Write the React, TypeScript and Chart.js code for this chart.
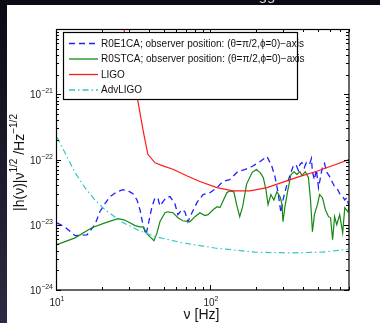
import React, { useEffect, useRef } from "react";
import { Chart, registerables } from "chart.js";
Chart.register(...registerables);

// ---------- data ----------
const ligoFreq = [27.6, 30.5, 33.6, 37, 39.5, 44, 50, 57.5, 70, 86, 111, 141, 182, 235, 298, 384, 495, 629, 800];
const ligoAmp = [1e-20, 2.6e-21, 9.3e-22, 2.6e-22, 1.2e-22, 8.9e-23, 7.9e-23, 7.1e-23, 5.7e-23, 4.6e-23, 3.7e-23, 3.3e-23, 3.3e-23, 3.7e-23, 4.5e-23, 5.5e-23, 6.6e-23, 8.1e-23, 1.0e-22];

const advFreq = [10.15, 11.4, 13.3, 15.4, 17.9, 20.8, 26.8, 34, 43.9, 65.7, 107.7, 197, 320, 534, 787];
const advAmp = [2.2e-22, 1.29e-22, 6.3e-23, 3.7e-23, 2.4e-23, 1.7e-23, 1.1e-23, 8.3e-24, 6.6e-24, 5.3e-24, 4.4e-24, 3.8e-24, 3.7e-24, 3.8e-24, 4.2e-24];

const e1Freq = [10.15, 11.4, 13.3, 15.9, 17.9, 19.3, 20.8, 22.4, 24.9, 27.2, 29.5, 31.6, 33.6, 35.1, 36.7, 38.4, 39.6, 42.0, 44.0, 46.0, 47.3, 49.6, 51.8, 55.0, 59.2, 61.9, 65.7, 68.8, 71.9, 76.4, 82.3, 90.1, 100, 111.2, 121, 134.2, 151.4, 167.9, 187.7, 211.7, 234.9, 252.6, 264.2, 276.3, 289, 298, 316.6, 330.9, 346.6, 362, 375, 384, 396, 410, 423, 443, 456, 463, 477, 491, 507, 522, 538, 555, 570, 598, 626, 645, 676, 696, 728, 751, 775, 800];
const e1Amp = [1.07e-23, 9.3e-24, 6.8e-24, 7.0e-24, 1.0e-23, 1.6e-23, 2.1e-23, 2.7e-23, 3.2e-23, 3.45e-23, 3.3e-23, 3.0e-23, 2.4e-23, 1.7e-23, 1.0e-23, 7.0e-24, 9.7e-24, 1.89e-23, 2.6e-23, 2.5e-23, 1.95e-23, 2.26e-23, 2.6e-23, 2.7e-23, 2.1e-23, 1.43e-23, 1.7e-23, 1.58e-23, 1.11e-23, 1.53e-23, 2.18e-23, 2.9e-23, 3.1e-23, 3.7e-23, 4.6e-23, 4.9e-23, 6.5e-23, 7.0e-23, 7.8e-23, 9.3e-23, 1.11e-22, 7.8e-23, 5.5e-23, 3.2e-23, 1.53e-23, 2.4e-23, 4.2e-23, 5.7e-23, 7.8e-23, 8.4e-23, 6.8e-23, 8.4e-23, 9.0e-23, 7.5e-23, 9.0e-23, 8.4e-23, 1.035e-22, 6.5e-23, 4.9e-23, 7.0e-23, 3.7e-23, 5.3e-23, 7.8e-23, 8.7e-23, 6.5e-23, 5.5e-23, 4.4e-23, 3.85e-23, 3.45e-23, 3.0e-23, 2.7e-23, 2.4e-23, 2.6e-23, 1.89e-23];

const stFreq = [10.0, 13.3, 17.1, 20.8, 25.3, 27.6, 30.2, 32.6, 35.1, 36.7, 39.6, 43.3, 45.3, 47.3, 51.0, 53.3, 57.5, 61.9, 66.7, 74.1, 79.9, 86.0, 92.6, 97.3, 104.8, 111.2, 116.2, 121, 128.8, 134.2, 143, 149, 156, 163, 173, 187.7, 200, 211.7, 221.9, 231, 238.3, 248.8, 260, 272, 285, 293.5, 298, 307, 321, 336, 352, 367, 384, 396, 416, 436, 450, 463, 477, 499, 515, 538, 562, 589, 607, 626, 645, 666, 696, 728, 751, 787, 800];
const stAmp = [4.9e-24, 6.3e-24, 9.0e-24, 1.07e-23, 1.24e-23, 1.19e-23, 1.07e-23, 9.7e-24, 9.3e-24, 9.3e-24, 7.0e-24, 5.7e-24, 7.5e-24, 1.11e-23, 1.53e-23, 1.58e-23, 1.53e-23, 1.28e-23, 1.15e-23, 1.11e-23, 1.33e-23, 1.53e-23, 1.38e-23, 1.43e-23, 1.7e-23, 1.89e-23, 1.83e-23, 2.26e-23, 3.1e-23, 3.3e-23, 3.2e-23, 2.03e-23, 1.33e-23, 1.89e-23, 4.2e-23, 6.3e-23, 7.0e-23, 6.3e-23, 5.3e-23, 3.45e-23, 2.03e-23, 2.9e-23, 2.4e-23, 3.2e-23, 2.7e-23, 2.1e-23, 1.11e-23, 1.89e-23, 3.45e-23, 5.9e-23, 6.5e-23, 5.9e-23, 6.5e-23, 5.7e-23, 6.5e-23, 5.3e-23, 2.4e-23, 7.8e-24, 1.43e-23, 2.03e-23, 2.9e-23, 2.6e-23, 1.7e-23, 1.33e-23, 1.28e-23, 5.9e-24, 1.33e-23, 1.0e-23, 1.43e-23, 7.5e-24, 1.83e-23, 1.58e-23, 1.89e-23];

const seriesLabels = [
  "R0E1CA; observer position: (θ=π/2,ϕ=0)−axis",
  "R0STCA; observer position: (θ=π/2,ϕ=0)−axis",
  "LIGO",
  "AdvLIGO",
];
const xTickDecades = [10, 100];
const xTickExp = ["1", "2"];
const yTickDecades = [1e-24, 1e-23, 1e-22, 1e-21];
const yTickExp = ["−24", "−23", "−22", "−21"];

// ---------- styles ----------
const COLORS = ["#1f1fff", "#138a13", "#ff1a1a", "#2ec8c8"];
const DASHES: number[][] = [[6, 4], [], [], [6, 3, 1.5, 3]];
const FONT = "'Liberation Sans', Arial, Helvetica, sans-serif";

const toPts = (xs: number[], ys: number[]) => xs.map((x, i) => ({ x, y: ys[i] }));

function drawRich(ctx: CanvasRenderingContext2D, parts: { t: string; sup?: boolean }[], size: number, supSize: number, x: number, y: number, align: "left" | "center" | "right") {
  const widths = parts.map((p) => {
    ctx.font = `${p.sup ? supSize : size}px ${FONT}`;
    return ctx.measureText(p.t).width;
  });
  const total = widths.reduce((a, b) => a + b, 0);
  let cx = align === "left" ? x : align === "center" ? x - total / 2 : x - total;
  ctx.textAlign = "left";
  ctx.textBaseline = "alphabetic";
  parts.forEach((p, i) => {
    ctx.font = `${p.sup ? supSize : size}px ${FONT}`;
    ctx.fillText(p.t, cx, p.sup ? y - size * 0.5 : y);
    cx += widths[i];
  });
}

const decor = {
  id: "decor",
  beforeDraw(chart: any) {
    const { ctx, width, height } = chart;
    ctx.save();
    ctx.fillStyle = "#ffffff";
    ctx.fillRect(0, 0, width, height);
    const g = ctx.createLinearGradient(0, 0, 0, height);
    g.addColorStop(0, "#0a0a14");
    g.addColorStop(1, "#2c2b42");
    ctx.fillStyle = g;
    ctx.fillRect(0, 0, 7, height);
    ctx.fillStyle = "#0b0b16";
    ctx.fillRect(0, 0, width, 5);
    ctx.fillStyle = "#d0d0d8";
    ctx.font = `15px ${FONT}`;
    ctx.textAlign = "center";
    ctx.textBaseline = "alphabetic";
    ctx.fillText("gg", 267, 0);
    ctx.restore();
  },
  afterDraw(chart: any) {
    const { ctx, chartArea: a, scales } = chart;
    const xs = scales.x, ys = scales.y;
    ctx.save();
    ctx.strokeStyle = "#000";
    ctx.lineWidth = 1;
    const tick = (px: number, horizontal: boolean, len: number) => {
      ctx.beginPath();
      if (horizontal) {
        const X = Math.round(px) + 0.5;
        ctx.moveTo(X, a.bottom); ctx.lineTo(X, a.bottom - len);
        ctx.moveTo(X, a.top); ctx.lineTo(X, a.top + len);
      } else {
        const Y = Math.round(px) + 0.5;
        ctx.moveTo(a.left, Y); ctx.lineTo(a.left + len, Y);
        ctx.moveTo(a.right, Y); ctx.lineTo(a.right - len, Y);
      }
      ctx.stroke();
    };
    [10, 100].forEach((d) => {
      for (let m = 1; m <= 9; m++) {
        const v = d * m;
        if (v > xs.max) break;
        tick(xs.getPixelForValue(v), true, m === 1 ? 5 : 3);
      }
    });
    [1e-24, 1e-23, 1e-22, 1e-21].forEach((d) => {
      for (let m = 1; m <= 10; m++) {
        const v = d * m;
        if (m === 10 && d !== 1e-21) continue;
        tick(ys.getPixelForValue(v), false, m === 1 || m === 10 ? 5 : 3);
      }
    });
    ctx.lineWidth = 1.2;
    ctx.strokeRect(a.left + 0.5, a.top + 0.5, a.right - a.left - 0.5, a.bottom - a.top - 0.5);

    ctx.fillStyle = "#222";
    yTickDecades.forEach((v, i) => {
      const py = ys.getPixelForValue(v);
      drawRich(ctx, [{ t: "10" }, { t: yTickExp[i], sup: true }], 10, 7, a.left - 3, py + 4, "right");
    });
    xTickDecades.forEach((v, i) => {
      const px = xs.getPixelForValue(v);
      drawRich(ctx, [{ t: "10" }, { t: xTickExp[i], sup: true }], 10, 7, px + 1, a.bottom + 16, "center");
    });

    ctx.fillStyle = "#111";
    drawRich(ctx, [{ t: "ν [Hz]" }], 14, 10, (a.left + a.right) / 2 - 1, 319, "center");
    ctx.save();
    ctx.translate(24, (a.top + a.bottom) / 2 + 3);
    ctx.rotate(-Math.PI / 2);
    drawRich(ctx, [{ t: "|h(ν)|ν" }, { t: "1/2", sup: true }, { t: " /Hz" }, { t: "−1/2", sup: true }], 14, 10, 0, 0, "center");
    ctx.restore();

    const L = 63, T = 32, R = 297, B = 99;
    ctx.fillStyle = "#fff";
    ctx.fillRect(L, T, R - L, B - T);
    ctx.strokeStyle = "#000";
    ctx.lineWidth = 1.2;
    ctx.strokeRect(L + 0.5, T + 0.5, R - L, B - T);
    seriesLabels.forEach((lab, i) => {
      const y = 43.5 + i * 15.5;
      ctx.strokeStyle = COLORS[i];
      ctx.lineWidth = 1.3;
      ctx.setLineDash(DASHES[i]);
      ctx.beginPath();
      ctx.moveTo(69, y); ctx.lineTo(98, y);
      ctx.stroke();
      ctx.setLineDash([]);
      ctx.fillStyle = "#111";
      ctx.font = `10px ${FONT}`;
      ctx.textAlign = "left";
      ctx.textBaseline = "middle";
      ctx.fillText(lab, 101, y + 0.5);
    });
    ctx.restore();
  },
};

export default function App() {
  const ref = useRef<HTMLCanvasElement>(null);
  useEffect(() => {
    if (!ref.current) return;
    const mk = (i: number, pts: any[], order: number, width: number) => ({
      label: seriesLabels[i],
      data: pts,
      borderColor: COLORS[i],
      borderWidth: width,
      borderDash: DASHES[i],
      pointRadius: 0,
      fill: false,
      tension: 0,
      order,
    });
    const chart = new Chart(ref.current, {
      type: "line",
      data: {
        datasets: [
          mk(0, toPts(e1Freq, e1Amp), 4, 1.3),
          mk(1, toPts(stFreq, stAmp), 3, 1.2),
          mk(2, toPts(ligoFreq, ligoAmp), 2, 1.2),
          mk(3, toPts(advFreq, advAmp), 1, 1.2),
        ],
      },
      options: {
        animation: false,
        responsive: false,
        devicePixelRatio: 1,
        layout: { padding: { left: 56, right: 31, top: 29, bottom: 33 } },
        plugins: { legend: { display: false }, tooltip: { enabled: false } },
        scales: {
          x: { type: "logarithmic", min: 10, max: 800, display: false },
          y: { type: "logarithmic", min: 1e-24, max: 1e-20, display: false },
        },
      },
      plugins: [decor],
    });
    return () => chart.destroy();
  }, []);
  return (
    <div style={{ position: "fixed", left: 0, top: 0, width: 380, height: 323 }}>
      <canvas ref={ref} width={380} height={323} />
    </div>
  );
}
